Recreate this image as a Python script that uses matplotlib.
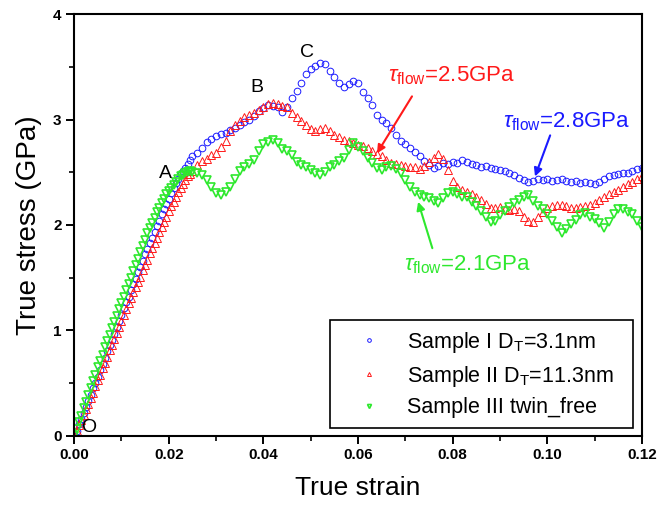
import matplotlib
matplotlib.use("Agg")
import matplotlib.pyplot as plt
from matplotlib.ticker import MultipleLocator, FormatStrFormatter

plt.rcParams["font.family"] = ["Liberation Sans", "DejaVu Sans"]
plt.rcParams["mathtext.fontset"] = "custom"
plt.rcParams["mathtext.rm"] = "Liberation Sans"
plt.rcParams["mathtext.it"] = "Liberation Sans:italic"

# ============================================================
# Data
# ============================================================

STRAIN = [
    0.0000, 0.0005, 0.0010, 0.0015, 0.0020, 0.0025, 0.0030, 0.0035, 0.0040, 0.0045,
    0.0050, 0.0055, 0.0060, 0.0065, 0.0070, 0.0075, 0.0080, 0.0085, 0.0090, 0.0095,
    0.0100, 0.0105, 0.0110, 0.0115, 0.0120, 0.0125, 0.0130, 0.0135, 0.0140, 0.0145,
    0.0150, 0.0155, 0.0160, 0.0165, 0.0170, 0.0175, 0.0180, 0.0185, 0.0190, 0.0195,
    0.0200, 0.0205, 0.0210, 0.0215, 0.0220, 0.0225, 0.0230, 0.0235, 0.0240, 0.0245,
    0.0250,
    0.026, 0.027, 0.028, 0.029, 0.030, 0.031, 0.032, 0.033, 0.034, 0.035,
    0.036, 0.037, 0.038, 0.039, 0.040, 0.041, 0.042, 0.043, 0.044, 0.045,
    0.046, 0.047, 0.048, 0.049, 0.050, 0.051, 0.052, 0.053, 0.054, 0.055,
    0.056, 0.057, 0.058, 0.059, 0.060, 0.061, 0.062, 0.063, 0.064, 0.065,
    0.066, 0.067, 0.068, 0.069, 0.070, 0.071, 0.072, 0.073, 0.074, 0.075,
    0.076, 0.077, 0.078, 0.079, 0.080, 0.081, 0.082, 0.083, 0.084, 0.085,
    0.086, 0.087, 0.088, 0.089, 0.090, 0.091, 0.092, 0.093, 0.094, 0.095,
    0.096, 0.097, 0.098, 0.099, 0.100, 0.101, 0.102, 0.103, 0.104, 0.105,
    0.106, 0.107, 0.108, 0.109, 0.110, 0.111, 0.112, 0.113, 0.114, 0.115,
    0.116, 0.117, 0.118, 0.119, 0.120,
]

# Sample I, D_T = 3.1 nm (GPa)
SAMPLE_I = [
    0.00, 0.05, 0.11, 0.16, 0.22, 0.27, 0.33, 0.39, 0.45, 0.50,
    0.56, 0.62, 0.68, 0.74, 0.80, 0.86, 0.91, 0.97, 1.03, 1.09,
    1.15, 1.21, 1.27, 1.32, 1.38, 1.44, 1.49, 1.55, 1.60, 1.66,
    1.72, 1.77, 1.83, 1.88, 1.93, 1.99, 2.04, 2.10, 2.15, 2.20,
    2.25, 2.30, 2.35, 2.40, 2.44, 2.48, 2.51, 2.54, 2.58, 2.62,
    2.65,
    2.68, 2.73, 2.79, 2.82, 2.84, 2.86, 2.87, 2.90, 2.92, 2.95,
    2.98, 3.00, 3.03, 3.08, 3.11, 3.14, 3.13, 3.12, 3.07, 3.12,
    3.20, 3.27, 3.35, 3.43, 3.48, 3.51, 3.54, 3.53, 3.46, 3.40,
    3.35, 3.31, 3.34, 3.37, 3.35, 3.26, 3.20, 3.14, 3.04, 3.00,
    2.97, 2.92, 2.85, 2.80, 2.77, 2.73, 2.69, 2.65, 2.61, 2.57,
    2.54, 2.56, 2.59, 2.58, 2.60, 2.59, 2.62, 2.60, 2.58, 2.57,
    2.55, 2.56, 2.54, 2.53, 2.52, 2.51, 2.49, 2.47, 2.45, 2.43,
    2.41, 2.42, 2.44, 2.43, 2.44, 2.42, 2.43, 2.44, 2.42, 2.41,
    2.42, 2.40, 2.41, 2.40, 2.39, 2.41, 2.44, 2.46, 2.47, 2.48,
    2.49, 2.49, 2.51, 2.53, 2.54,
]

# Sample II, D_T = 11.3 nm (GPa)
SAMPLE_II = [
    0.00, 0.05, 0.10, 0.15, 0.20, 0.25, 0.30, 0.36, 0.41, 0.47,
    0.53, 0.58, 0.64, 0.69, 0.75, 0.81, 0.86, 0.92, 0.98, 1.03,
    1.09, 1.15, 1.20, 1.26, 1.31, 1.36, 1.41, 1.46, 1.51, 1.57,
    1.62, 1.67, 1.73, 1.78, 1.83, 1.88, 1.93, 1.98, 2.03, 2.08,
    2.13, 2.18, 2.22, 2.27, 2.31, 2.35, 2.39, 2.43, 2.46, 2.48,
    2.51,
    2.57, 2.61, 2.63, 2.66, 2.68, 2.74, 2.80, 2.89, 2.95, 2.99,
    3.02, 3.04, 3.06, 3.09, 3.12, 3.15, 3.16, 3.15, 3.13, 3.12,
    3.06, 3.02, 2.99, 2.95, 2.91, 2.89, 2.91, 2.92, 2.89, 2.85,
    2.83, 2.81, 2.80, 2.78, 2.76, 2.75, 2.73, 2.70, 2.67, 2.65,
    2.62, 2.59, 2.58, 2.57, 2.56, 2.55, 2.55, 2.53, 2.56, 2.60,
    2.64, 2.67, 2.63, 2.52, 2.42, 2.36, 2.33, 2.31, 2.29, 2.27,
    2.24, 2.20, 2.16, 2.16, 2.17, 2.15, 2.14, 2.15, 2.13, 2.08,
    2.04, 2.03, 2.08, 2.12, 2.16, 2.18, 2.19, 2.19, 2.18, 2.16,
    2.16, 2.17, 2.18, 2.19, 2.21, 2.24, 2.27, 2.29, 2.31, 2.33,
    2.36, 2.39, 2.41, 2.44, 2.46,
]

# Sample III, twin free (GPa)
SAMPLE_III = [
    0.00, 0.06, 0.13, 0.19, 0.26, 0.32, 0.39, 0.45, 0.52, 0.58,
    0.65, 0.71, 0.77, 0.84, 0.90, 0.96, 1.02, 1.08, 1.14, 1.20,
    1.26, 1.32, 1.38, 1.44, 1.50, 1.56, 1.62, 1.68, 1.74, 1.80,
    1.86, 1.92, 1.97, 2.02, 2.07, 2.12, 2.16, 2.21, 2.25, 2.29,
    2.32, 2.35, 2.38, 2.41, 2.44, 2.46, 2.47, 2.49, 2.50, 2.51,
    2.50,
    2.49, 2.47, 2.43, 2.36, 2.30, 2.28, 2.31, 2.36, 2.44, 2.51,
    2.55, 2.58, 2.62, 2.70, 2.77, 2.79, 2.81, 2.78, 2.72, 2.70,
    2.66, 2.60, 2.57, 2.55, 2.52, 2.49, 2.47, 2.50, 2.55, 2.57,
    2.61, 2.64, 2.71, 2.78, 2.74, 2.70, 2.64, 2.59, 2.54, 2.52,
    2.55, 2.56, 2.53, 2.49, 2.43, 2.36, 2.31, 2.28, 2.27, 2.26,
    2.23, 2.21, 2.26, 2.30, 2.31, 2.29, 2.27, 2.27, 2.22, 2.18,
    2.13, 2.08, 2.03, 2.04, 2.09, 2.13, 2.17, 2.21, 2.24, 2.27,
    2.28, 2.23, 2.18, 2.15, 2.10, 2.04, 1.98, 1.92, 1.96, 2.01,
    2.05, 2.09, 2.11, 2.08, 2.06, 2.02, 1.97, 2.03, 2.10, 2.15,
    2.15, 2.12, 2.10, 2.04, 1.98,
]

LABELS = [r"Sample I D$_\mathrm{T}$=3.1nm",
          r"Sample II D$_\mathrm{T}$=11.3nm",
          "Sample III twin_free"]

# point labels on the curves
POINT_TEXT = ["O", "A", "B", "C"]
POINT_X    = [0.0030, 0.0192, 0.0386, 0.0492]
POINT_Y    = [0.08, 2.49, 3.30, 3.64]

# flow stress annotations: text, text anchor, arrow tail, arrow tip
FLOW_TEXT = [r"$\tau_{\mathrm{flow}}$=2.5GPa",
             r"$\tau_{\mathrm{flow}}$=2.8GPa",
             r"$\tau_{\mathrm{flow}}$=2.1GPa"]
FLOW_TXT_X  = [0.0663, 0.0906, 0.0697]
FLOW_TXT_Y  = [3.42, 2.98, 1.62]
FLOW_TAIL_X = [0.0714, 0.1006, 0.0757]
FLOW_TAIL_Y = [3.22, 2.85, 1.78]
FLOW_TIP_X  = [0.0640, 0.0974, 0.0727]
FLOW_TIP_Y  = [2.68, 2.46, 2.22]

BLUE  = "#1a1aff"
RED   = "#ff1a1a"
GREEN = "#2ee82e"

# ============================================================
# Plot
# ============================================================

fig = plt.figure(figsize=(6.68, 5.05), dpi=100)
ax = fig.add_axes([0.111, 0.137, 0.850, 0.835])

ax.plot(STRAIN, SAMPLE_I, ls="none", marker="o", ms=4.8, mfc="none",
        mec=BLUE, mew=0.7, label=LABELS[0])
ax.plot(STRAIN, SAMPLE_II, ls="none", marker="^", ms=5.2, mfc="none",
        mec=RED, mew=0.7, label=LABELS[1])
ax.plot(STRAIN, SAMPLE_III, ls="none", marker="v", ms=5.2, mfc="none",
        mec=GREEN, mew=1.2, label=LABELS[2])

ax.set_xlim(0, 0.12)
ax.set_ylim(0, 4)

# ── ticks / spines ─────────────────────────────────────────
ax.xaxis.set_major_locator(MultipleLocator(0.02))
ax.xaxis.set_minor_locator(MultipleLocator(0.01))
ax.xaxis.set_major_formatter(FormatStrFormatter("%.2f"))
ax.yaxis.set_major_locator(MultipleLocator(1))
ax.yaxis.set_minor_locator(MultipleLocator(0.5))
ax.tick_params(which="major", direction="out", length=6, width=1.4,
               labelsize=11, pad=3)
ax.tick_params(which="minor", direction="out", length=3.5, width=1.2)
for lbl in ax.get_xticklabels() + ax.get_yticklabels():
    lbl.set_fontweight("bold")
for sp in ax.spines.values():
    sp.set_linewidth(1.5)

ax.set_xlabel("True strain", fontsize=19, labelpad=10)
ax.set_ylabel("True stress (GPa)", fontsize=20, labelpad=8)

# ── point labels ───────────────────────────────────────────
for t, x, y in zip(POINT_TEXT, POINT_X, POINT_Y):
    ax.text(x, y, t, fontsize=14, ha="center", va="center")

# ── flow stress arrows ─────────────────────────────────────
for i, col in enumerate([RED, BLUE, GREEN]):
    ax.annotate("", xy=(FLOW_TIP_X[i], FLOW_TIP_Y[i]),
                xytext=(FLOW_TAIL_X[i], FLOW_TAIL_Y[i]),
                arrowprops=dict(arrowstyle="-|>", color=col, lw=1.5,
                                mutation_scale=12, shrinkA=0, shrinkB=0))
    ax.text(FLOW_TXT_X[i], FLOW_TXT_Y[i], FLOW_TEXT[i], color=col,
            fontsize=16, ha="left", va="center")

# ── legend ─────────────────────────────────────────────────
leg = ax.legend(loc="lower left", bbox_to_anchor=(0.451, 0.019, 0.533, 0.244),
                mode="expand", borderaxespad=0, fontsize=15.5, markerscale=0.55,
                handlelength=2.7, handletextpad=0.4, labelspacing=0.4,
                borderpad=0.45, fancybox=False, framealpha=1, edgecolor="black")
leg.get_frame().set_linewidth(1.2)

fig.savefig("out.png", dpi=100)
